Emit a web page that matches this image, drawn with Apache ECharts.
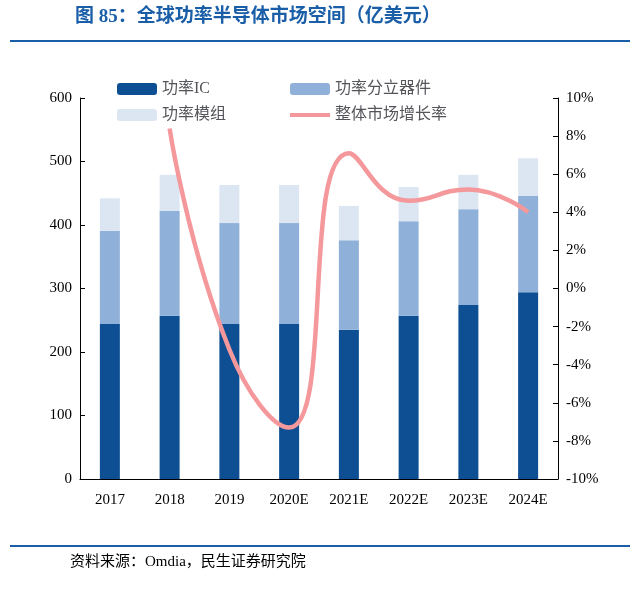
<!DOCTYPE html>
<html><head><meta charset="utf-8">
<script src="https://cdn.jsdelivr.net/npm/echarts@6/dist/echarts.min.js"></script>
<style>body{margin:0;background:#fff}#c{width:640px;height:590px}</style>
</head><body><div id="c"></div>
<script>
var years = ['2017', '2018', '2019', '2020E', '2021E', '2022E', '2023E', '2024E']
var icVals = [244, 257, 244, 244, 235, 257, 274, 294]
var discreteVals = [147, 165, 159, 159, 141, 149, 151, 152]
var moduleVals = [51, 57, 60, 60, 54, 54, 54, 59]
var growthVals = [null, 8.4, -3.2, -7.3, 7.1, 4.6, 5.2, 4.0]

var serif = '"Liberation Serif", "Noto Sans CJK SC", serif'
var chart = echarts.init(document.getElementById('c'))
chart.setOption({
    animation: false,
    textStyle: { fontFamily: serif },
    graphic: [
        { type: 'text', left: 75, top: 8, style: { text: '图 85：全球功率半导体市场空间（亿美元）', font: 'bold 19px ' + serif, fill: '#1a5ea8' } },
        { type: 'rect', shape: { x: 10, y: 40, width: 620, height: 2 }, style: { fill: '#1a5ea8' } },
        { type: 'rect', shape: { x: 10, y: 545, width: 620, height: 2 }, style: { fill: '#1a5ea8' } },
        { type: 'text', left: 70, top: 555, style: { text: '资料来源：Omdia，民生证券研究院', font: '15px ' + serif, fill: '#000' } }
    ],
    legend: [
        { data: ['功率IC', '功率分立器件'], left: 112, top: 76, itemGap: 80, itemWidth: 40, itemHeight: 12, textStyle: { fontSize: 16, fontFamily: serif } },
        { data: ['功率模组', { name: '整体市场增长率', icon: 'path://M0,0 L40,0 L40,4 L0,4 Z' }], left: 112, top: 102, itemGap: 64, itemWidth: 40, itemHeight: 12, textStyle: { fontSize: 16, fontFamily: serif } }
    ],
    grid: { left: 80, right: 82, top: 98, bottom: 111 },
    xAxis: {
        type: 'category', data: years,
        axisLine: { lineStyle: { color: '#000' } }, axisTick: { show: false },
        axisLabel: { color: '#000', fontSize: 15, margin: 14 }
    },
    yAxis: [
        { type: 'value', min: 0, max: 600, interval: 100, splitLine: { show: false },
          axisLine: { show: true, lineStyle: { color: '#000' } }, axisTick: { show: true, inside: true },
          axisLabel: { color: '#000', fontSize: 15 } },
        { type: 'value', min: -10, max: 10, interval: 2, splitLine: { show: false },
          axisLine: { show: true, lineStyle: { color: '#000' } }, axisTick: { show: true, inside: true },
          axisLabel: { color: '#000', fontSize: 15, formatter: '{value}%' } }
    ],
    series: [
        { name: '功率IC', type: 'bar', stack: 'a', data: icVals, barWidth: 20, itemStyle: { color: '#0d4f92' } },
        { name: '功率分立器件', type: 'bar', stack: 'a', data: discreteVals, itemStyle: { color: '#8fb0d9' } },
        { name: '功率模组', type: 'bar', stack: 'a', data: moduleVals, itemStyle: { color: '#dce6f2' } },
        { name: '整体市场增长率', type: 'line', yAxisIndex: 1, data: growthVals, smooth: 0.5, symbol: 'none',
          lineStyle: { color: '#f4989c', width: 4.5 }, itemStyle: { color: '#f4989c' } }
    ]
})
</script></body></html>
